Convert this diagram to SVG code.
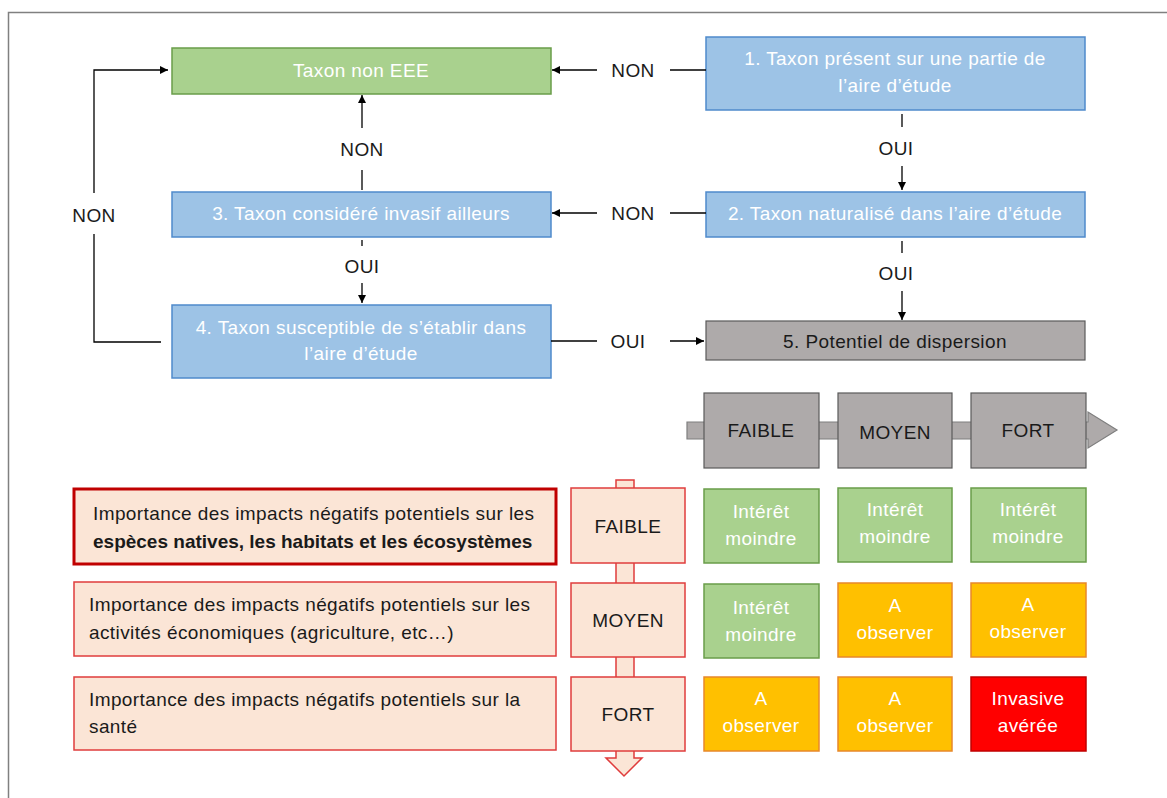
<svg xmlns="http://www.w3.org/2000/svg" width="1167" height="798" viewBox="0 0 1167 798">
<defs>
<style>
text{font-family:"Liberation Sans","Open Sans",sans-serif;font-size:19px;letter-spacing:0.4px;text-anchor:middle;dominant-baseline:central}
.w{fill:#ffffff}
.d{fill:#1a1a1a}
.l{text-anchor:start}
.b{font-weight:bold;letter-spacing:0}
.blue{fill:#9DC3E6;stroke:#4F8ACB;stroke-width:1.5}
.green{fill:#A9D18E;stroke:#6A9D4A;stroke-width:1.5}
.gray{fill:#AEAAAA;stroke:#5a5a5a;stroke-width:1.2}
.orange{fill:#FFC000;stroke:#E8882A;stroke-width:1.5}
.red{fill:#FF0000;stroke:#C00000;stroke-width:1.5}
.pink{fill:#FBE5D6;stroke:#E03C3C;stroke-width:1.5}
.con{fill:none;stroke:#000;stroke-width:1.3}
</style>
<marker id="ah" viewBox="0 0 10 10" refX="10" refY="5" markerWidth="8" markerHeight="8" markerUnits="userSpaceOnUse" orient="auto"><path d="M0,0 L10,5 L0,10 z" fill="#000"/></marker>
</defs>
<rect x="8.5" y="12.5" width="1200" height="820" fill="#fff" stroke="#808080" stroke-width="1.5"/>

<g id="n-non-eee"><rect class="green" x="172" y="48" width="379" height="46"/><text class="w" x="361" y="70">Taxon non EEE</text></g>
<g id="n1"><rect class="blue" x="706" y="37" width="379" height="73"/><text class="w" x="895" y="58">1. Taxon présent sur une partie de</text><text class="w" x="895" y="85">l’aire d’étude</text></g>
<g id="n3"><rect class="blue" x="172" y="192" width="379" height="45"/><text class="w" x="361" y="213">3. Taxon considéré invasif ailleurs</text></g>
<g id="n2"><rect class="blue" x="706" y="192" width="379" height="45"/><text class="w" x="895" y="213">2. Taxon naturalisé dans l’aire d’étude</text></g>
<g id="n4"><rect class="blue" x="172" y="305" width="379" height="73"/><text class="w" x="361" y="327">4. Taxon susceptible de s’établir dans</text><text class="w" x="361" y="353">l’aire d’étude</text></g>
<g id="n5"><rect class="gray" x="706" y="321" width="379" height="39"/><text class="d" x="895" y="341">5. Potentiel de dispersion</text></g>

<g id="connectors">
<path class="con" d="M706,70 H670"/><text class="d" x="633" y="70">NON</text><path class="con" d="M597,70 H552" marker-end="url(#ah)"/>
<path class="con" d="M706,213 H670"/><text class="d" x="633" y="213">NON</text><path class="con" d="M597,213 H552" marker-end="url(#ah)"/>
<path class="con" d="M902,114 V127"/><text class="d" x="896" y="148">OUI</text><path class="con" d="M902,166 V190" marker-end="url(#ah)"/>
<path class="con" d="M902,241 V253"/><text class="d" x="896" y="273">OUI</text><path class="con" d="M902,291 V320" marker-end="url(#ah)"/>
<path class="con" d="M362,190 V170"/><text class="d" x="362" y="149">NON</text><path class="con" d="M362,128 V95" marker-end="url(#ah)"/>
<path class="con" d="M362,240 V246"/><text class="d" x="362" y="266">OUI</text><path class="con" d="M362,283 V303" marker-end="url(#ah)"/>
<path class="con" d="M161,342 H94 V234"/><text class="d" x="94" y="215">NON</text><path class="con" d="M94,193 V70 H168" marker-end="url(#ah)"/>
<path class="con" d="M551,341 H597"/><text class="d" x="628" y="341">OUI</text><path class="con" d="M670,341 H704" marker-end="url(#ah)"/>
</g>

<g id="dispersion-scale">
<path class="gray" d="M687,422 H1088 V412 L1117,430 L1088,448 V439 H687 Z" style="stroke:#7f7f7f"/>
<g id="s-faible"><rect class="gray" x="704" y="393" width="115" height="75"/><text class="d" x="761" y="430">FAIBLE</text></g>
<g id="s-moyen"><rect class="gray" x="838" y="393" width="114" height="75"/><text class="d" x="895" y="432">MOYEN</text></g>
<g id="s-fort"><rect class="gray" x="971" y="393" width="115" height="75"/><text class="d" x="1028" y="430">FORT</text></g>
</g>

<g id="impact-scale">
<path class="pink" d="M616,480 H634 V758 H642 L624,776 L606,758 H616 Z"/>
<g id="i-faible"><rect class="pink" x="571" y="488" width="114" height="75"/><text class="d" x="628" y="526">FAIBLE</text></g>
<g id="i-moyen"><rect class="pink" x="571" y="583" width="114" height="74"/><text class="d" x="628" y="620">MOYEN</text></g>
<g id="i-fort"><rect class="pink" x="571" y="677" width="114" height="74"/><text class="d" x="628" y="714">FORT</text></g>
</g>

<g id="impact-especes"><rect class="pink" x="74" y="489" width="482" height="75" style="stroke:#C00000;stroke-width:3"/><text class="d l" x="93" y="513">Importance des impacts négatifs potentiels sur les</text><text class="d l b" x="93" y="541">espèces natives, les habitats et les écosystèmes</text></g>
<g id="impact-eco"><rect class="pink" x="74" y="582" width="482" height="74"/><text class="d l" x="89" y="604">Importance des impacts négatifs potentiels sur les</text><text class="d l" x="89" y="632">activités économiques (agriculture, etc…)</text></g>
<g id="impact-sante"><rect class="pink" x="74" y="677" width="482" height="73"/><text class="d l" x="89" y="699">Importance des impacts négatifs potentiels sur la</text><text class="d l" x="89" y="726">santé</text></g>

<g id="c11"><rect class="green" x="704" y="489" width="115" height="74"/><text class="w" x="761" y="511">Intérêt</text><text class="w" x="761" y="538">moindre</text></g>
<g id="c12"><rect class="green" x="838" y="488" width="114" height="74"/><text class="w" x="895" y="509">Intérêt</text><text class="w" x="895" y="536">moindre</text></g>
<g id="c13"><rect class="green" x="971" y="488" width="115" height="74"/><text class="w" x="1028" y="509">Intérêt</text><text class="w" x="1028" y="536">moindre</text></g>
<g id="c21"><rect class="green" x="704" y="584" width="115" height="74"/><text class="w" x="761" y="607">Intérêt</text><text class="w" x="761" y="634">moindre</text></g>
<g id="c22"><rect class="orange" x="838" y="583" width="114" height="74"/><text class="w" x="895" y="605">A</text><text class="w" x="895" y="632">observer</text></g>
<g id="c23"><rect class="orange" x="971" y="583" width="115" height="74"/><text class="w" x="1028" y="604">A</text><text class="w" x="1028" y="631">observer</text></g>
<g id="c31"><rect class="orange" x="704" y="677" width="115" height="74"/><text class="w" x="761" y="698">A</text><text class="w" x="761" y="725">observer</text></g>
<g id="c32"><rect class="orange" x="838" y="677" width="114" height="74"/><text class="w" x="895" y="698">A</text><text class="w" x="895" y="725">observer</text></g>
<g id="c33"><rect class="red" x="971" y="677" width="115" height="74"/><text class="w" x="1028" y="698">Invasive</text><text class="w" x="1028" y="725">avérée</text></g>
</svg>
